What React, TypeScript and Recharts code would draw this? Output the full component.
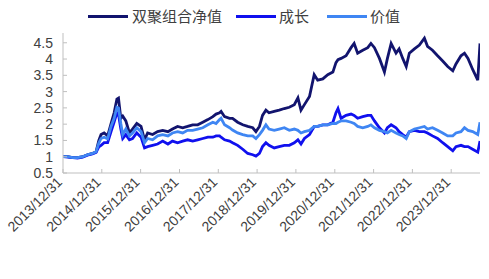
import React from "react";
import { LineChart, Line, XAxis, YAxis } from "recharts";

const dates = [
  "2013/12/31", "2014/02/14", "2014/04/01", "2014/05/17", "2014/07/04", "2014/08/18",
  "2014/10/04", "2014/11/07", "2014/12/03", "2014/12/24", "2015/01/22", "2015/02/24",
  "2015/03/28", "2015/04/26", "2015/05/22", "2015/06/06", "2015/06/28", "2015/07/16",
  "2015/08/14", "2015/09/17", "2015/10/16", "2015/11/25", "2016/01/04", "2016/02/06",
  "2016/03/06", "2016/04/22", "2016/06/08", "2016/07/26", "2016/09/13", "2016/10/26",
  "2016/12/13", "2017/01/30", "2017/03/17", "2017/05/04", "2017/06/20", "2017/08/07",
  "2017/09/24", "2017/11/10", "2017/12/10", "2018/01/12", "2018/01/26", "2018/02/28",
  "2018/04/16", "2018/05/14", "2018/07/01", "2018/08/18", "2018/10/04", "2018/11/20",
  "2018/12/20", "2019/01/22", "2019/02/20", "2019/03/24", "2019/04/22", "2019/06/10",
  "2019/07/27", "2019/09/13", "2019/10/30", "2019/12/16", "2020/01/19", "2020/02/17",
  "2020/03/20", "2020/05/07", "2020/06/20", "2020/07/23", "2020/09/09", "2020/10/26",
  "2020/12/13", "2021/01/11", "2021/01/30", "2021/02/28", "2021/04/16", "2021/06/02",
  "2021/07/01", "2021/08/03", "2021/09/20", "2021/11/06", "2021/12/06", "2022/01/08",
  "2022/02/24", "2022/04/12", "2022/05/10", "2022/06/14", "2022/07/30", "2022/08/28",
  "2022/10/01", "2022/11/03", "2022/12/02", "2023/01/19", "2023/03/07", "2023/04/23",
  "2023/05/22", "2023/07/08", "2023/08/25", "2023/10/12", "2023/11/28", "2024/01/15",
  "2024/02/14", "2024/04/01", "2024/05/04", "2024/06/06", "2024/07/20", "2024/09/06",
  "2024/09/27",
];

const combo = [
  1.0, 1.0, 0.97, 0.97, 1.0, 1.06,
  1.1, 1.15, 1.5, 1.68, 1.73, 1.64,
  2.02, 2.35, 2.77, 2.8, 2.18, 2.25,
  2.1, 1.73, 1.85, 2.02, 1.93, 1.52,
  1.73, 1.68, 1.77, 1.81, 1.77, 1.85,
  1.93, 1.89, 1.93, 1.98, 1.98, 2.06,
  2.14, 2.23, 2.31, 2.35, 2.39, 2.23,
  2.18, 2.18, 2.06, 1.98, 1.93, 1.89,
  1.77, 1.93, 2.27, 2.43, 2.35, 2.39,
  2.43, 2.48, 2.52, 2.6, 2.81, 2.43,
  2.6, 2.85, 3.52, 3.35, 3.39, 3.52,
  3.6, 3.89, 3.98, 4.02, 4.1, 4.35,
  4.48, 4.18, 4.27, 4.35, 4.48, 4.35,
  4.02, 3.6, 4.02, 4.48, 4.18, 4.31,
  4.02, 3.77, 4.18, 4.31, 4.43, 4.64,
  4.39, 4.27, 4.1, 3.94, 3.77, 3.64,
  3.85, 4.1, 4.18, 4.02, 3.68, 3.35,
  4.48,
];

const growth = [
  1.0, 0.99, 0.97, 0.96, 0.99, 1.05,
  1.09, 1.13, 1.3, 1.35, 1.43, 1.43,
  1.77, 2.06, 2.35, 2.3, 1.85, 1.56,
  1.68, 1.52, 1.56, 1.73, 1.6, 1.27,
  1.31, 1.35, 1.39, 1.48, 1.39, 1.48,
  1.43, 1.48, 1.52, 1.48, 1.52, 1.56,
  1.6, 1.6, 1.64, 1.64, 1.6, 1.52,
  1.48, 1.43, 1.35, 1.23, 1.1, 1.06,
  1.02, 1.1, 1.31, 1.43, 1.35, 1.27,
  1.31, 1.35, 1.35, 1.43, 1.52, 1.39,
  1.56, 1.68, 1.93, 1.93, 1.98, 1.98,
  2.06, 2.35, 2.48, 2.18, 2.27, 2.31,
  2.27, 2.18, 2.23, 2.27, 2.27, 2.1,
  1.89, 1.73, 1.89, 1.98, 1.89, 1.77,
  1.68, 1.6, 1.77, 1.81, 1.77, 1.77,
  1.73, 1.64, 1.56, 1.43, 1.31, 1.18,
  1.31, 1.35, 1.31, 1.31, 1.23, 1.14,
  1.48,
];

const value = [
  1.0, 1.0, 0.97, 0.97, 1.0, 1.06,
  1.1, 1.15, 1.42, 1.56, 1.6, 1.55,
  1.93, 2.18, 2.52, 2.5, 2.02, 1.68,
  1.85, 1.64, 1.73, 1.89, 1.77, 1.43,
  1.56, 1.52, 1.64, 1.68, 1.64, 1.73,
  1.77, 1.73, 1.81, 1.81, 1.85, 1.89,
  1.98, 2.06, 2.02, 2.14, 2.18, 1.98,
  1.89, 1.82, 1.73, 1.68, 1.64, 1.64,
  1.56, 1.68, 1.81, 1.98, 1.85, 1.81,
  1.85, 1.89, 1.81, 1.85, 1.81, 1.73,
  1.77, 1.81, 1.93, 1.93, 1.98, 1.98,
  2.02, 2.02, 2.06, 2.1, 2.1, 2.06,
  2.02, 1.93, 1.89, 1.93, 1.98, 1.89,
  1.81, 1.77, 1.73, 1.81, 1.73, 1.68,
  1.64, 1.56, 1.77, 1.85, 1.89, 1.93,
  1.85, 1.89, 1.81, 1.73, 1.64, 1.64,
  1.73, 1.77, 1.89, 1.81, 1.77, 1.68,
  2.06,
];

const seriesNames = ["双聚组合净值", "成长", "价值"];
const seriesColors = ["#12146e", "#1010ee", "#3f86f3"];

const xTickLabels = [
  "2013/12/31", "2014/12/31", "2015/12/31", "2016/12/31", "2017/12/31", "2018/12/31",
  "2019/12/31", "2020/12/31", "2021/12/31", "2022/12/31", "2023/12/31",
];
const yTicks = [0.5, 1, 1.5, 2, 2.5, 3, 3.5, 4, 4.5];

const toTime = (s: string) => {
  const [y, m, d] = s.split("/").map(Number);
  return Date.UTC(y, m - 1, d);
};

const data = dates.map((d, i) => ({
  t: toTime(d),
  combo: combo[i],
  growth: growth[i],
  value: value[i],
}));

const xTicks = xTickLabels.map(toTime);

const fmtDate = (v: number) => {
  const d = new Date(v);
  return `${d.getUTCFullYear()}/${d.getUTCMonth() + 1}/${d.getUTCDate()}`;
};

const FONT = "'Liberation Sans', Arial, sans-serif";

const XTick = (props: any) => {
  const { x, y, payload } = props;
  return (
    <text
      x={x}
      y={y}
      transform={`rotate(-45, ${x}, ${y})`}
      textAnchor="end"
      fontSize={14}
      fontFamily={FONT}
      fill="#404040"
    >
      {fmtDate(payload.value)}
    </text>
  );
};

const YTick = (props: any) => {
  const { x, y, payload } = props;
  return (
    <text
      x={x}
      y={y}
      dy={5}
      textAnchor="end"
      fontSize={14}
      fontFamily={FONT}
      fill="#404040"
    >
      {String(payload.value)}
    </text>
  );
};

const legendPos = [
  { line: 88, text: 132 },
  { line: 236, text: 279 },
  { line: 327, text: 370 },
];

export default function App() {
  return (
    <div style={{ position: "absolute", left: 0, top: 0, width: 489, height: 279, background: "#fff" }}>
      <LineChart
        width={489}
        height={279}
        data={data}
        margin={{ top: 33, right: 9, bottom: 76, left: 0 }}
      >
        <XAxis
          dataKey="t"
          type="number"
          scale="time"
          domain={[toTime("2013/12/31"), toTime("2024/09/27")]}
          ticks={xTicks}
          tick={<XTick />}
          tickSize={-4}
          tickMargin={14}
          stroke="#bfbfbf"
          interval={0}
          minTickGap={0}
          allowDataOverflow
        />
        <YAxis
          type="number"
          domain={[0.5, 4.8]}
          ticks={yTicks}
          tick={<YTick />}
          tickSize={-4}
          tickMargin={14}
          width={63}
          stroke="#bfbfbf"
          interval={0}
          allowDataOverflow
        />
        <Line dataKey="combo" stroke={seriesColors[0]} strokeWidth={2.8} dot={false} isAnimationActive={false} />
        <Line dataKey="growth" stroke={seriesColors[1]} strokeWidth={2.8} dot={false} isAnimationActive={false} />
        <Line dataKey="value" stroke={seriesColors[2]} strokeWidth={2.8} dot={false} isAnimationActive={false} />
      </LineChart>
      {seriesNames.map((name, i) => (
        <div key={name}>
          <div
            style={{
              position: "absolute",
              left: legendPos[i].line,
              top: 15,
              width: 40,
              height: 3,
              background: seriesColors[i],
            }}
          />
          <div
            style={{
              position: "absolute",
              left: legendPos[i].text,
              top: 6,
              fontSize: 15,
              lineHeight: "20px",
              fontFamily: "'Noto Sans CJK SC', sans-serif",
              color: "#404040",
              whiteSpace: "nowrap",
            }}
          >
            {name}
          </div>
        </div>
      ))}
    </div>
  );
}
